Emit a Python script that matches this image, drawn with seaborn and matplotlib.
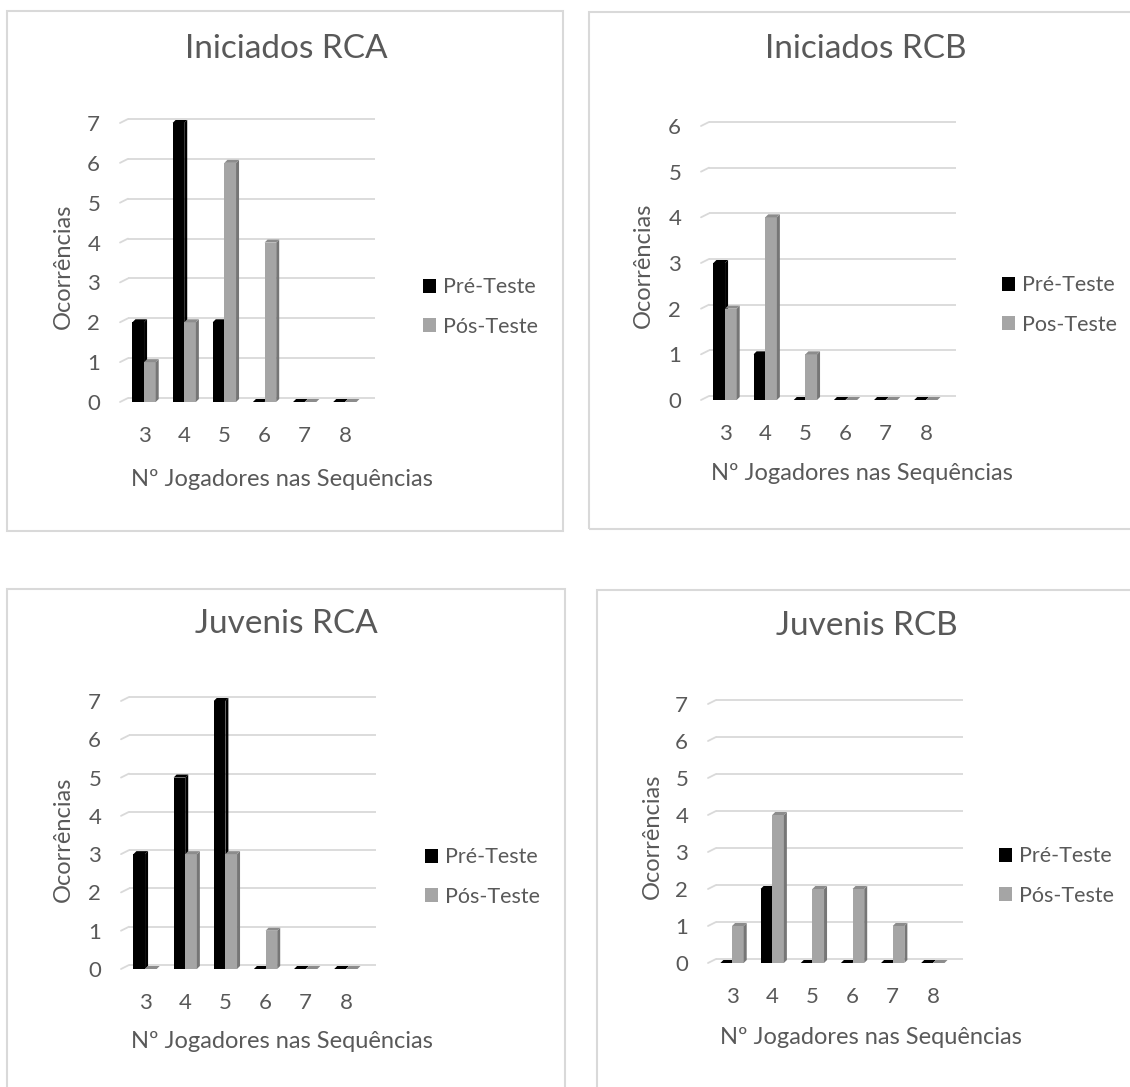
import matplotlib
matplotlib.use('Agg')
import matplotlib.pyplot as plt
import seaborn as sns
import pandas as pd
from matplotlib.patches import Rectangle, Polygon, Patch

# ---- data ----
cats = ['3', '4', '5', '6', '7', '8']

ini_rca_pre = [2, 7, 2, 0, 0, 0]
ini_rca_pos = [1, 2, 6, 4, 0, 0]
ini_rcb_pre = [3, 1, 0, 0, 0, 0]
ini_rcb_pos = [2, 4, 1, 0, 0, 0]
juv_rca_pre = [3, 5, 7, 0, 0, 0]
juv_rca_pos = [0, 3, 3, 1, 0, 0]
juv_rcb_pre = [0, 2, 0, 0, 0, 0]
juv_rcb_pos = [1, 4, 2, 2, 1, 0]

titles = ['Iniciados RCA', 'Iniciados RCB', 'Juvenis RCA', 'Juvenis RCB']
series_labels = [('Pré-Teste', 'Pós-Teste'), ('Pré-Teste', 'Pos-Teste'),
                 ('Pré-Teste', 'Pós-Teste'), ('Pré-Teste', 'Pós-Teste')]
y_max = [7, 6, 7, 7]
xlabel = 'Nº Jogadores nas Sequências'
ylabel = 'Ocorrências'

# ---- style ----
BLACK = '#000000'
GRAY = '#a5a5a5'
GRID = '#d9d9d9'
TXT = '#595959'
sns.set_style('white')
plt.rcParams['font.family'] = ['Lato', 'DejaVu Sans']

W, H = 1130, 1087
fig = plt.figure(figsize=(W / 100, H / 100), dpi=100)


def fx(x):
    return x / W


def fy(y):
    return 1 - y / H


# layout in pixels: box, axes (left, right, top, bottom), title, xlabel, ylabel, legend
layout = [
    dict(box=(7, 11, 563, 531), ax=(128, 375, 123, 402), title=(286, 57),
         xl=(282, 479), yl=(63, 266), leg=(423, 307)),
    dict(box=(589, 12, 1140, 529), ax=(709, 956, 126, 400), title=(866, 57),
         xl=(862, 474), yl=(643, 265), leg=(1002, 305)),
    dict(box=(7, 589, 565, 1100), ax=(129, 376, 701, 969), title=(286, 632),
         xl=(282, 1042), yl=(63, 839), leg=(425, 877)),
    dict(box=(597, 590, 1140, 1100), ax=(716, 963, 704, 963), title=(867, 634),
         xl=(871, 1037), yl=(652, 836), leg=(999, 876)),
]
data = [(ini_rca_pre, ini_rca_pos), (ini_rcb_pre, ini_rcb_pos),
        (juv_rca_pre, juv_rca_pos), (juv_rcb_pre, juv_rcb_pos)]

x_lo, x_hi = -0.4, 5.75

for i, lay in enumerate(layout):
    # panel frame
    bx0, by0, bx1, by1 = lay['box']
    fig.add_artist(Rectangle((fx(bx0), fy(by1)), (bx1 - bx0) / W, (by1 - by0) / H,
                             transform=fig.transFigure, fill=False,
                             edgecolor=GRID, lw=1.5))

    l, r, t, b = lay['ax']
    ax = fig.add_axes([fx(l), fy(b), (r - l) / W, (b - t) / H])

    pre, pos = data[i]
    labs = series_labels[i]
    df = pd.DataFrame({'n': cats * 2,
                       'v': pre + pos,
                       'fase': [labs[0]] * len(cats) + [labs[1]] * len(cats)})
    sns.barplot(data=df, x='n', y='v', hue='fase', order=cats, hue_order=list(labs),
                palette=[BLACK, GRAY], width=0.58, saturation=1, legend=False,
                linewidth=0, ax=ax)

    ym = y_max[i]
    ax.set_xlim(x_lo, x_hi)
    ax.set_ylim(0, ym)
    sns.despine(ax=ax, left=True, bottom=True)
    ax.set_yticks(range(ym + 1))
    ax.tick_params(length=0, labelsize=16, labelcolor=TXT)
    ax.tick_params(axis='y', pad=20)
    ax.tick_params(axis='x', pad=17)
    ax.set_facecolor('none')

    pxx = (r - l) / (x_hi - x_lo)
    pxy = (b - t) / ym
    dx, dy = 3 / pxx, 3 / pxy

    # back wall gridlines with the little perspective stub on the left
    for v in range(ym + 1):
        ax.plot([x_lo, x_hi], [v + 4 / pxy] * 2, color=GRID, lw=1.3,
                clip_on=False, zorder=0, solid_capstyle='butt')
        ax.plot([x_lo - 8 / pxx, x_lo], [v, v + 4 / pxy], color=GRID, lw=1.3,
                clip_on=False, zorder=0)

    # pseudo-3D faces on every bar
    for p in list(ax.patches):
        x, w, h = p.get_x(), p.get_width(), p.get_height()
        is_gray = p.get_facecolor()[0] > 0.3
        z = 3 if is_gray else 2
        p.set_zorder(z)
        side_c = '#767676' if is_gray else BLACK
        top_c = '#8c8c8c' if is_gray else BLACK
        ax.add_patch(Polygon([(x + w, 0), (x + w + dx, dy), (x + w + dx, h + dy), (x + w, h)],
                             closed=True, facecolor=side_c, edgecolor='none', zorder=z,
                             clip_on=False))
        ax.add_patch(Polygon([(x, h), (x + w, h), (x + w + dx, h + dy), (x + dx, h + dy)],
                             closed=True, facecolor=top_c, edgecolor='none', zorder=z,
                             clip_on=False))

    # texts
    tx, ty = lay['title']
    ax.set_title(titles[i], x=(tx - l) / (r - l), y=(b - ty) / (b - t), va='center',
                 fontsize=24, color=TXT)
    ax.set_xlabel(xlabel, fontsize=17, color=TXT)
    ax.xaxis.set_label_coords(fx(lay['xl'][0]), fy(lay['xl'][1]), transform=fig.transFigure)
    ax.xaxis.label.set_va('center')
    ax.set_ylabel(ylabel, fontsize=17, color=TXT)
    ax.yaxis.set_label_coords(fx(lay['yl'][0]), fy(lay['yl'][1]), transform=fig.transFigure)
    ax.yaxis.label.set_va('center')

    handles = [Patch(facecolor=BLACK, edgecolor='none'), Patch(facecolor=GRAY, edgecolor='none')]
    ax.legend(handles, list(labs), loc='center left',
              bbox_to_anchor=(fx(lay['leg'][0]), fy(lay['leg'][1])),
              bbox_transform=fig.transFigure, frameon=False, fontsize=15.5,
              handlelength=0.6, handleheight=0.6, handletextpad=0.35,
              labelspacing=0.9, borderpad=0, borderaxespad=0, labelcolor=TXT)

fig.savefig('out.png', dpi=100)
